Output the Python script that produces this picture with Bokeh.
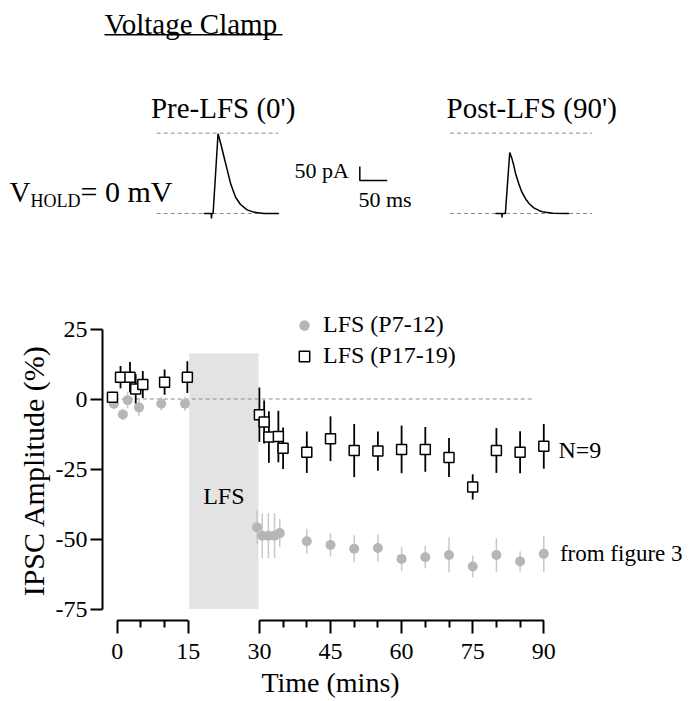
import numpy as np
from bokeh.plotting import figure
from bokeh.models import (Range1d, FixedTicker, Label, BoxAnnotation, Legend,
                          LegendItem, LinearAxis)
from bokeh.embed import file_html
from bokeh.resources import INLINE

FONT = "Liberation Serif"

# ---------------- data: example IPSC sweeps (ms from sweep start, pA from baseline)
pre_t_ms = [0, 13.5, 14, 14.5, 17, 26, 31, 37, 43, 49, 58, 67, 79, 91, 110, 137]
pre_pA = [0, 0, -18, 0, 0, 285, 249, 201, 154, 106, 58, 32, 13, 5, 0, 0]
post_t_ms = [0, 11.5, 12, 12.5, 18, 26, 30, 33, 37, 42.5, 48, 55, 62, 70, 80, 88, 105, 134]
post_pA = [0, 0, -14, 0, 0, 218, 196, 174, 140, 106, 77, 52, 34, 20, 10, 5, 1, 0]
ref_levels_pA = [0, 287]
pre_ref_ms = [-86, 136]
post_ref_ms = [-83, 176]
scale_ms = 50
scale_pA = 50

# ---------------- data: time course (% change of IPSC amplitude)
sq_t = [-1, 0.7, 2.7, 3.9, 5.4, 10, 14.8, 30, 31, 32, 34, 35, 40, 45, 50, 55,
        60, 65, 70, 75, 80, 85, 90]
sq_y = [0.6, 7.8, 7.8, 3.6, 5.2, 6, 7.8, -5.6, -8.2, -13.6, -13.4, -17.6, -19,
        -14.2, -18.4, -18.6, -18, -18, -20.9, -31.4, -18.4, -19, -16.9]
sq_err = [2, 4, 5.4, 5.2, 4.8, 4.5, 5.7, 9.7, 7.7, 9.2, 9.2, 7.4, 7.4, 8, 9.5,
          7, 8.5, 8, 7, 4.5, 8, 7.5, 8]

ci_t = [-0.7, 1.2, 2.2, 4.6, 9.3, 14.3, 29.5, 30.6, 31.9, 33.2, 34.3, 40, 45,
        50, 55, 60, 65, 70, 75, 80, 85, 90]
ci_y = [-1.7, -5.5, -0.4, -3, -1.7, -1.7, -45.8, -48.8, -48.8, -48.8, -47.9,
        -50.8, -52.1, -53.5, -53.2, -57.1, -56.5, -55.7, -59.8, -55.7, -58, -55.3]
ci_err = [2, 2, 3, 3, 2.5, 2.5, 6, 8, 8, 8, 5, 4.5, 4.2, 4.8, 4.8, 4.2, 4, 6.3,
          3.9, 6, 3.6, 6.5]

series_labels = ["LFS (P7-12)", "LFS (P17-19)"]
lfs_window = [15.2, 29.8]
lfs_top = 16.3
zero_line_span = [-2, 88]
x_ticks = [0, 15, 30, 45, 60, 75, 90]
x_minor = [5, 10, 35, 40, 50, 55, 65, 70, 80, 85]
x_axis_pieces = [(0, 15), (30, 90)]
y_ticks = [25, 0, -25, -50, -75]
y_tick_labels = ["25", "0", "-25", "-50", "-75"]

# ---------------- geometry (pixels; the frame is the whole canvas)
W, H = 691, 701
PX_PER_MIN = 4.74
T0_PX = 116.7            # t = 0 min
YAX_PX = 102.0           # y-axis line
PX_PER_PCT = 2.8
ZERO_PX = 398.5          # 0 % (from top)
XAX_PX = 620.0           # x-axis line (from top)

PX_PER_MS = 0.548
PX_PER_PA = 0.28
PRE_X0 = 203.3           # sweep starts
POST_X0 = 495.0
BASE_PX = 213.0          # trace baseline (from top)

x_rng = Range1d(-T0_PX / PX_PER_MIN, (W - T0_PX) / PX_PER_MIN)
y_rng = Range1d(-(H - ZERO_PX) / PX_PER_PCT, ZERO_PX / PX_PER_PCT)

p = figure(width=W, height=H, x_range=x_rng, y_range=y_rng,
           x_axis_type=None, y_axis_type=None, output_backend="svg",
           toolbar_location=None, min_border=0)
p.outline_line_color = None
p.background_fill_color = "white"
p.border_fill_color = "white"
p.extra_x_ranges = {
    "pre": Range1d(-PRE_X0 / PX_PER_MS, (W - PRE_X0) / PX_PER_MS),
    "post": Range1d(-POST_X0 / PX_PER_MS, (W - POST_X0) / PX_PER_MS),
}
p.extra_y_ranges = {
    "amp": Range1d(-(H - BASE_PX) / PX_PER_PA, BASE_PX / PX_PER_PA)
}


def lab(text, x, y, size, align="left", xu="screen", yu="screen", angle=0.0):
    """x, y in screen units are given from the top-left corner."""
    if yu == "screen":
        y = H - y
    p.add_layout(Label(x=x, y=y, x_units=xu, y_units=yu, text=text,
                       text_font=FONT, text_font_size=f"{size}px",
                       text_color="black", text_align=align,
                       text_baseline="middle", angle=angle))


# ---------------- example traces
dash_kw = dict(line_color="#8c8c8c", line_width=1, line_dash="4 3", y_range_name="amp")
p.segment(x0=[pre_ref_ms[0]] * 2, x1=[pre_ref_ms[1]] * 2,
          y0=ref_levels_pA, y1=ref_levels_pA, x_range_name="pre", **dash_kw)
p.segment(x0=[post_ref_ms[0]] * 2, x1=[post_ref_ms[1]] * 2,
          y0=ref_levels_pA, y1=ref_levels_pA, x_range_name="post", **dash_kw)
p.line(pre_t_ms, pre_pA, line_color="black", line_width=1.5,
       x_range_name="pre", y_range_name="amp")
p.line(post_t_ms, post_pA, line_color="black", line_width=1.5,
       x_range_name="post", y_range_name="amp")

SB_X, SB_Y = 284.7, 117.9               # scale-bar corner (pre-sweep coords)
p.line(x=[SB_X, SB_X, SB_X + scale_ms], y=[SB_Y + scale_pA, SB_Y, SB_Y],
       line_color="black", line_width=1.5, x_range_name="pre", y_range_name="amp")

lab("Voltage Clamp", 104, 23, 29)
p.add_layout(BoxAnnotation(left=104, right=282, bottom=H - 35, top=H - 33.5,
                           left_units="screen", right_units="screen",
                           bottom_units="screen", top_units="screen",
                           fill_color="black", fill_alpha=1, line_alpha=0))
lab("Pre-LFS (0')", 150.4, 107, 29)
lab("Post-LFS (90')", 446, 107, 29)
lab("V", 9, 191, 29)
lab("HOLD", 30, 200, 18)
lab("= 0 mV", 80, 191, 30)
lab("50 pA", 294, 170, 22)
lab("50 ms", 358, 199, 22)

# ---------------- axes (placed at fixed data locations)
yax = LinearAxis(bounds=(y_ticks[-1], y_ticks[0]),
                 ticker=FixedTicker(ticks=y_ticks, minor_ticks=[]),
                 major_label_overrides=dict(zip(y_ticks, y_tick_labels)),
                 fixed_location=(YAX_PX - T0_PX) / PX_PER_MIN)
xax = LinearAxis(bounds=(x_ticks[0], x_ticks[-1]),
                 ticker=FixedTicker(ticks=x_ticks, minor_ticks=x_minor),
                 fixed_location=(ZERO_PX - XAX_PX) / PX_PER_PCT)
for ax in (yax, xax):
    ax.axis_line_width = 2
    ax.axis_line_color = "black"
    ax.major_tick_line_width = 2
    ax.minor_tick_line_width = 2
    ax.major_tick_in = 0
    ax.minor_tick_in = 0
    ax.major_label_text_font = FONT
    ax.major_label_text_font_size = "24px"
    ax.major_label_text_color = "black"
yax.major_tick_out = 12
yax.minor_tick_out = 0
yax.major_label_standoff = 3
xax.major_tick_out = 13
xax.minor_tick_out = 7
xax.major_label_standoff = 10
xax.axis_line_color = None
p.add_layout(yax, "left")
p.add_layout(xax, "below")

# broken x-axis line
axis_y = xax.fixed_location
p.segment(x0=[a for a, b in x_axis_pieces], x1=[b for a, b in x_axis_pieces],
          y0=axis_y, y1=axis_y, line_color="black", line_width=2)

lab("Time (mins)", float(np.mean([x_ticks[0], x_ticks[-1]])), 682, 28,
    align="center", xu="data")
lab("IPSC Amplitude (%)", 33, 470, 30, align="center", angle=np.pi / 2)

# ---------------- time course
p.quad(left=lfs_window[0], right=lfs_window[1], bottom=y_ticks[-1], top=lfs_top,
       fill_color="#e3e3e3", line_color=None)
lab("LFS", float(np.mean(lfs_window)), -34.5, 24, align="center", xu="data", yu="data")

p.segment(x0=zero_line_span[0], x1=zero_line_span[1], y0=0, y1=0,
          line_color="#8c8c8c", line_width=1.2, line_dash="4 3")

ci_t_a, ci_y_a, ci_e_a = map(np.array, (ci_t, ci_y, ci_err))
sq_t_a, sq_y_a, sq_e_a = map(np.array, (sq_t, sq_y, sq_err))

p.segment(x0=ci_t_a, x1=ci_t_a, y0=ci_y_a - ci_e_a, y1=ci_y_a + ci_e_a,
          line_color="#c8c8c8", line_width=1.5)
r_ci = p.scatter(ci_t_a, ci_y_a, marker="circle", size=10,
                 fill_color="#b6b6b6", line_color=None)
p.segment(x0=sq_t_a, x1=sq_t_a, y0=sq_y_a - sq_e_a, y1=sq_y_a + sq_e_a,
          line_color="black", line_width=1.8)
r_sq = p.scatter(sq_t_a, sq_y_a, marker="square", size=10,
                 fill_color="white", line_color="black", line_width=1.5)

lab("N=9", sq_t[-1] + 3.1, sq_y[-1] - 1.2, 24, xu="data", yu="data")
lab("from figure 3", ci_t[-1] + 3.4, ci_y[-1], 23, xu="data", yu="data")

legend = Legend(items=[LegendItem(label=series_labels[0], renderers=[r_ci]),
                       LegendItem(label=series_labels[1], renderers=[r_sq])],
                location=(291, H - 369), orientation="vertical",
                label_text_font=FONT, label_text_font_size="24px",
                label_text_color="black", border_line_color=None,
                background_fill_alpha=0, padding=0, margin=0, spacing=4,
                glyph_width=26, glyph_height=26, label_standoff=6,
                label_height=20)
p.add_layout(legend)

open("out.html", "w").write(file_html(p, INLINE))
